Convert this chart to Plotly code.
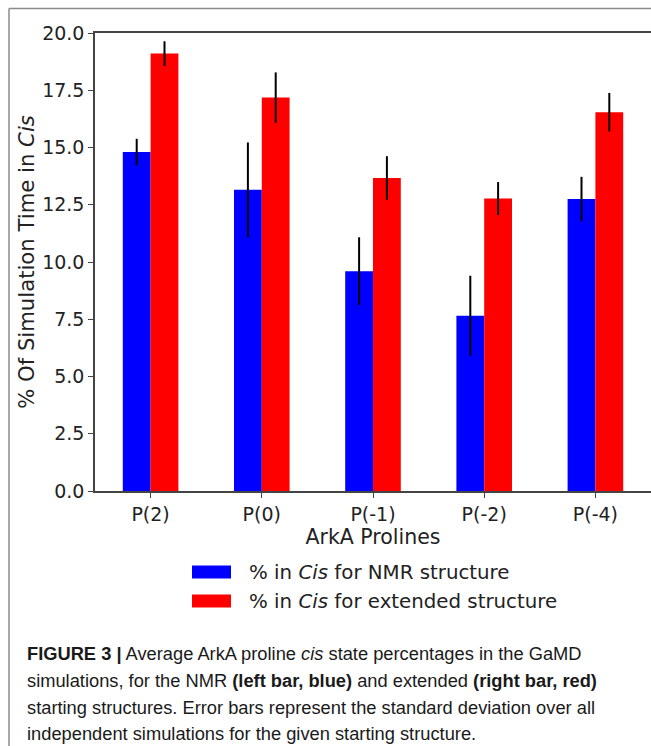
import plotly.graph_objects as go

categories = ["P(2)", "P(0)", "P(-1)", "P(-2)", "P(-4)"]
nmr_values = [14.8, 13.15, 9.6, 7.65, 12.75]
nmr_errors = [0.58, 2.07, 1.48, 1.75, 0.97]
ext_values = [19.1, 17.18, 13.67, 12.77, 16.54]
ext_errors = [0.54, 1.1, 0.95, 0.72, 0.84]
y_ticks = [0.0, 2.5, 5.0, 7.5, 10.0, 12.5, 15.0, 17.5, 20.0]

W, H = 651, 746
L, T, B = 95, 33, 491
R = 651
PW, PH = R - L, B - T

def px(x):
    return (x - L) / PW

def py(y):
    return (B - y) / PH

idx = list(range(len(categories)))
bw = 0.25

fig = go.Figure()
fig.add_trace(go.Bar(
    x=[i - bw / 2 for i in idx], y=nmr_values, width=bw,
    marker=dict(color="#0000ff", line=dict(width=0)),
    error_y=dict(type="data", array=nmr_errors, color="black", thickness=2, width=0),
    name="% in Cis for NMR structure", showlegend=False,
))
fig.add_trace(go.Bar(
    x=[i + bw / 2 for i in idx], y=ext_values, width=bw,
    marker=dict(color="#ff0000", line=dict(width=0)),
    error_y=dict(type="data", array=ext_errors, color="black", thickness=2, width=0),
    name="% in Cis for extended structure", showlegend=False,
))

axis_col = "#444444"
txt_col = "#222222"
font_main = "DejaVu Sans"
fig.update_layout(
    width=W, height=H,
    margin=dict(l=L, r=W - R, t=T, b=H - B, autoexpand=False),
    paper_bgcolor="white", plot_bgcolor="white",
    barmode="overlay",
    font=dict(family=font_main, size=19, color=txt_col),
    xaxis=dict(
        range=[-0.5, 4.5], tickmode="array", tickvals=idx, ticktext=categories,
        showgrid=False, zeroline=False, showline=True, linecolor=axis_col, linewidth=1.5,
        mirror=True, ticks="outside", ticklen=5, tickcolor=axis_col, tickwidth=1,
        tickfont=dict(size=19, color=txt_col),
        title=dict(text="ArkA Prolines", font=dict(size=20.5, color=txt_col), standoff=4),
    ),
    yaxis=dict(
        range=[0, 20], tickmode="array", tickvals=y_ticks,
        ticktext=[f"{v:.1f}" for v in y_ticks],
        showgrid=False, zeroline=False, showline=True, linecolor=axis_col, linewidth=1.5,
        ticks="outside", ticklen=5, tickcolor=axis_col, tickwidth=1,
        tickfont=dict(size=19, color=txt_col),
        title=dict(text="% Of Simulation Time in <i>Cis</i>", font=dict(size=21.2, color=txt_col), standoff=2),
    ),
)

shapes = []
# figure frame
shapes.append(dict(type="line", xref="paper", yref="paper", x0=px(9), x1=px(W + 5), y0=py(8.5), y1=py(8.5),
                   line=dict(color="#8a8a8a", width=1.5)))
shapes.append(dict(type="line", xref="paper", yref="paper", x0=px(9), x1=px(9), y0=py(8.5), y1=py(H + 5),
                   line=dict(color="#8a8a8a", width=1.5)))
# legend patches
legend_rows = [("#0000ff", 572, "% in <i>Cis</i> for NMR structure"),
               ("#ff0000", 601, "% in <i>Cis</i> for extended structure")]
annotations = []
for col, yc, txt in legend_rows:
    shapes.append(dict(type="rect", xref="paper", yref="paper", x0=px(192), x1=px(231),
                       y0=py(yc - 6.5), y1=py(yc + 6.5), fillcolor=col, line=dict(width=0)))
    annotations.append(dict(xref="paper", yref="paper", x=px(247), y=py(yc), xanchor="left", yanchor="middle",
                            text=txt, showarrow=False, font=dict(family=font_main, size=19.8, color=txt_col)))

caption_lines = [
    "<b>FIGURE 3 |</b> Average ArkA proline <i>cis</i> state percentages in the GaMD",
    "simulations, for the NMR <b>(left bar, blue)</b> and extended <b>(right bar, red)</b>",
    "starting structures. Error bars represent the standard deviation over all",
    "independent simulations for the given starting structure.",
]
cap_y = [653, 680, 707, 733]
for line, yc in zip(caption_lines, cap_y):
    annotations.append(dict(xref="paper", yref="paper", x=px(25), y=py(yc), xanchor="left", yanchor="middle",
                            text=line, showarrow=False,
                            font=dict(family="Liberation Sans", size=18.3, color="#1a1a1a")))

fig.update_layout(shapes=shapes, annotations=annotations)
fig.write_html("out.html", config={"displayModeBar": False},
               post_script="document.body.style.margin='0';document.documentElement.style.overflow='hidden';document.body.style.overflow='hidden';")
